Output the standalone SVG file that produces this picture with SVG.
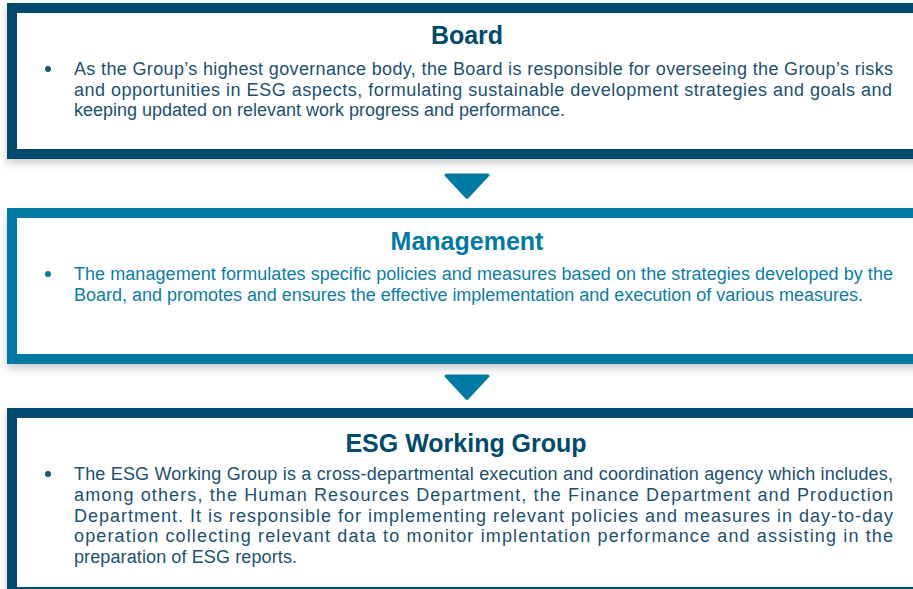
<svg xmlns="http://www.w3.org/2000/svg" width="913" height="589" viewBox="0 0 913 589">
  <defs>
    <filter id="shadow" x="-5%" y="-20%" width="110%" height="140%">
      <feDropShadow dx="0" dy="4" stdDeviation="4" flood-color="#000" flood-opacity="0.22"/>
    </filter>
    <style>
      .frame { fill: #ffffff; stroke-width: 10; filter: url(#shadow); }
      .dark { stroke: #004b6d; }
      .teal { stroke: #0079a3; }
      .title { font-family: "Liberation Sans", Arial, sans-serif; font-weight: bold; font-size: 25px; text-anchor: middle; }
      .body { font-family: "Liberation Sans", Arial, sans-serif; font-size: 18px; }
      .ink-dark { fill: #1c5070; }
      .ink-teal { fill: #0d7ca6; }
      .arrow { fill: #0079a3; stroke: #0079a3; stroke-width: 3; stroke-linejoin: round; }
    </style>
  </defs>
  <rect width="913" height="589" fill="#ffffff"/>

  <!-- Board -->
  <g id="board">
    <rect class="frame dark" x="12" y="8" width="960" height="146"/>
    <text class="title" x="467" y="44" fill="#004b6d">Board</text>
    <g class="body ink-dark">
      <circle cx="48" cy="69" r="3"/>
      <text x="74" y="75" textLength="819" lengthAdjust="spacing">As the Group’s highest governance body, the Board is responsible for overseeing the Group’s risks</text>
      <text x="74" y="95.5" textLength="818" lengthAdjust="spacing">and opportunities in ESG aspects, formulating sustainable development strategies and goals and</text>
      <text x="74" y="116" textLength="491" lengthAdjust="spacing">keeping updated on relevant work progress and performance.</text>
    </g>
  </g>

  <!-- Management -->
  <g id="management">
    <rect class="frame teal" x="12" y="213" width="960" height="146"/>
    <text class="title" x="467" y="250" fill="#0079a3">Management</text>
    <g class="body ink-teal">
      <circle cx="48" cy="274" r="3"/>
      <text x="74" y="280" textLength="819" lengthAdjust="spacing">The management formulates specific policies and measures based on the strategies developed by the</text>
      <text x="74" y="300.5" textLength="789" lengthAdjust="spacing">Board, and promotes and ensures the effective implementation and execution of various measures.</text>
    </g>
  </g>

  <!-- ESG Working Group -->
  <g id="esg-working-group">
    <rect class="frame dark" x="12" y="413" width="960" height="179"/>
    <text class="title" x="466" y="452" fill="#004b6d">ESG Working Group</text>
    <g class="body ink-dark">
      <circle cx="48" cy="474" r="3"/>
      <text x="74" y="480" textLength="819" lengthAdjust="spacing">The ESG Working Group is a cross-departmental execution and coordination agency which includes,</text>
      <text x="74" y="501" textLength="819" lengthAdjust="spacing">among others, the Human Resources Department, the Finance Department and Production</text>
      <text x="74" y="521.5" textLength="819" lengthAdjust="spacing">Department. It is responsible for implementing relevant policies and measures in day-to-day</text>
      <text x="74" y="542" textLength="819" lengthAdjust="spacing">operation collecting relevant data to monitor implentation performance and assisting in the</text>
      <text x="74" y="562.5" textLength="223" lengthAdjust="spacing">preparation of ESG reports.</text>
    </g>
  </g>

  <!-- Connectors -->
  <g id="connectors">
    <polygon class="arrow" points="446,175 488,175 467,197.5"/>
    <polygon class="arrow" points="446,376 488,376 467,398.5"/>
  </g>
</svg>
